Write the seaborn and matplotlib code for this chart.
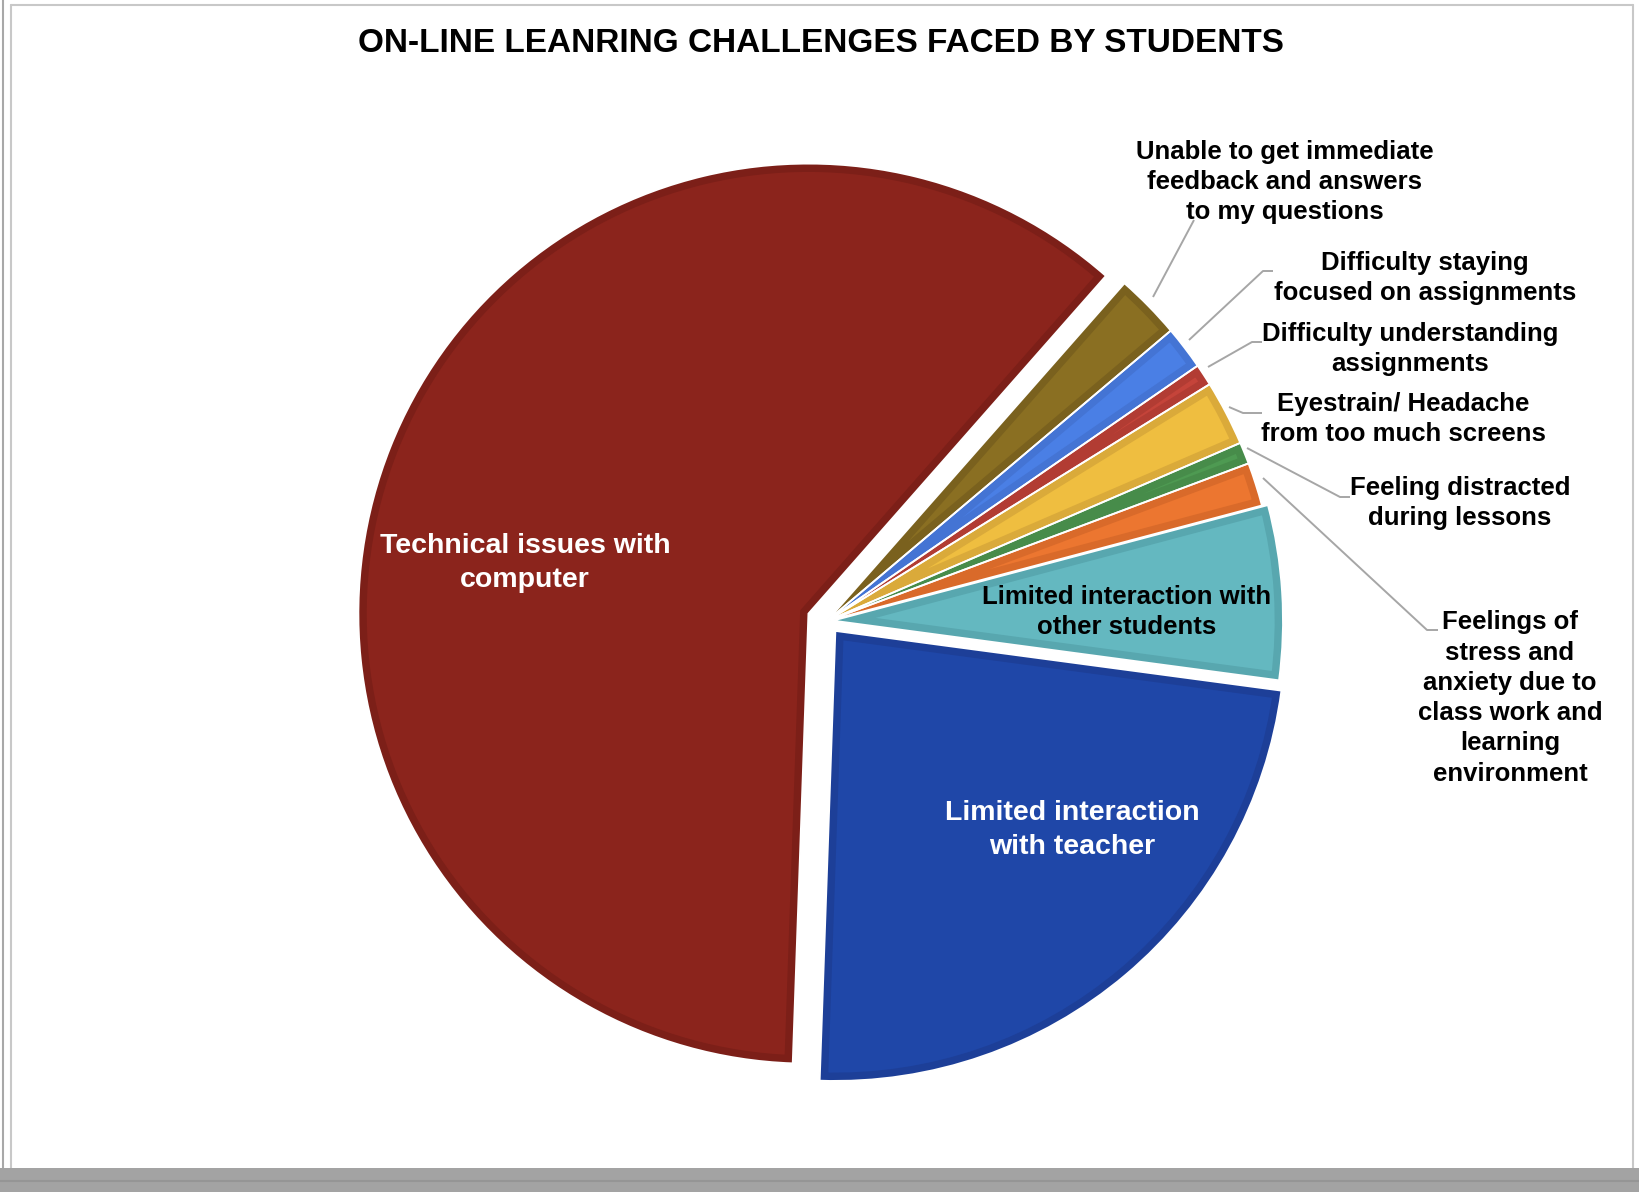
import matplotlib
matplotlib.use("Agg")
import matplotlib.pyplot as plt
import seaborn as sns
from matplotlib.patches import Rectangle

sns.set_theme(style="white")
plt.rcParams['font.family'] = ['Liberation Sans', 'DejaVu Sans']

# ---------------- data ----------------
categories = [
    "Limited interaction\nwith teacher",
    "Limited interaction with\nother students",
    "Feelings of\nstress and\nanxiety due to\nclass work and\nlearning\nenvironment",
    "Feeling distracted\nduring lessons",
    "Eyestrain/ Headache\nfrom too much screens",
    "Difficulty understanding\nassignments",
    "Difficulty staying\nfocused on assignments",
    "Unable to get immediate\nfeedback and answers\nto my questions",
    "Technical issues with\ncomputer",
]
counts = [30, 8, 2, 1, 3, 1, 2, 3, 78]
fill_colors = ["#1F47A8", "#64B8C0", "#EC7630", "#4E9A52", "#EFBE40",
               "#C5443A", "#4A7FE5", "#8A6F22", "#8B241C"]
edge_colors = ["#1D3F98", "#58A7AF", "#D96A2A", "#478C4A", "#DAAA3A",
               "#B23C33", "#4474D4", "#7A611E", "#7C1F18"]
explode_px = [13, 6, 0, 0, 0, 0, 0, 0, 20]
title = "ON-LINE LEANRING CHALLENGES FACED BY STUDENTS"

# ---------------- layout ----------------
W, H = 1640, 1192
fig = plt.figure(figsize=(W / 100, H / 100), dpi=100)
ax = fig.add_axes([0, 0, 1, 1])


def Y(py):
    return H - py


CX, CY, R = 827, Y(621), 450

wedges, _ = ax.pie(counts, colors=fill_colors, explode=explode_px, startangle=268,
                   counterclock=True, center=(CX, CY), radius=R,
                   wedgeprops=dict(linewidth=0), frame=True)
# inner darker border: thick edge clipped to the wedge itself
for w, ec in zip(wedges, edge_colors):
    w.set_edgecolor(ec)
    w.set_linewidth(12)
    w.set_clip_on(True)
    w.set_clip_path(w.get_path(), w.get_transform())
# thin white separators
ax.pie(counts, colors=["none"] * len(counts), explode=explode_px, startangle=268,
       counterclock=True, center=(CX, CY), radius=R,
       wedgeprops=dict(linewidth=1.3, edgecolor="white", facecolor="none"),
       frame=True)
ax.set_xlim(0, W)
ax.set_ylim(0, H)
ax.set_aspect("equal")
ax.axis("off")

fs_out = 18.5
fs_in = 20.5
ls = 1.33
# inside labels
ax.text(525, Y(563), categories[8], color="white", fontsize=fs_in, fontweight="bold",
        ha="center", va="center", linespacing=1.36)
ax.text(1072, Y(830), categories[0], color="white", fontsize=fs_in, fontweight="bold",
        ha="center", va="center", linespacing=1.36)
ax.text(1127, Y(612), categories[1], color="black", fontsize=fs_out, fontweight="bold",
        ha="center", va="center", linespacing=ls)

# outside labels with leader lines (pixel coords)
lc = "#A6A6A6"
outside = [
    (7, (1285, 182), [(1153, 297), (1194, 220)]),
    (6, (1425, 278), [(1189, 340), (1263, 271), (1273, 271)]),
    (5, (1410, 349), [(1208, 367), (1252, 342), (1262, 342)]),
    (4, (1403, 419), [(1229, 407), (1243, 413), (1262, 413)]),
    (3, (1460, 503), [(1247, 448), (1340, 497), (1350, 497)]),
    (2, (1510, 698), [(1263, 478), (1427, 630), (1438, 630)]),
]
for idx, (tx, ty), pts in outside:
    ax.text(tx, Y(ty), categories[idx], color="black", fontsize=fs_out, fontweight="bold",
            ha="center", va="center", linespacing=ls, multialignment="center")
    ax.plot([p[0] for p in pts], [Y(p[1]) for p in pts], color=lc, lw=1.4,
            solid_capstyle="butt", zorder=5)

# title
ax.text(821, Y(43), title, fontsize=24, fontweight="bold", ha="center", va="center",
        color="black")

# frame decorations
ax.plot([11, 11], [Y(5), Y(1168)], color="#C8C8C8", lw=1.5)
ax.plot([3, 3], [Y(0), Y(1168)], color="#A8A8A8", lw=1.5)
ax.plot([11, 1633], [Y(5), Y(5)], color="#C8C8C8", lw=1.5)
ax.plot([1633, 1633], [Y(5), Y(1168)], color="#C8C8C8", lw=1.5)
ax.add_patch(Rectangle((0, 0), W, H - 1168, facecolor="#A3A3A3", edgecolor="none",
                       zorder=10))
ax.plot([0, W], [Y(1181), Y(1181)], color="#959595", lw=1.5, zorder=11)

fig.savefig("out.png", dpi=100)
